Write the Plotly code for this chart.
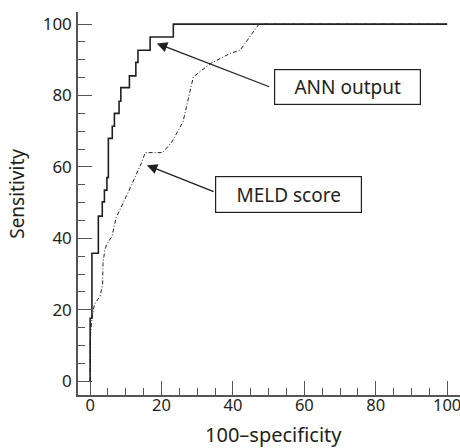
import plotly.graph_objects as go

# ANN output ROC (step curve vertices, 100-specificity vs sensitivity)
ann_x = [0, 0.5, 2.3, 3.4, 4.0, 4.7, 5.1, 6.2, 6.8, 8.1, 8.6, 11.0, 12.8, 13.4, 16.8, 23.3, 100]
ann_y = [0, 17.6, 35.8, 46.2, 50.2, 53.5, 57.0, 68.0, 71.4, 75.0, 78.4, 82.2, 85.5, 89.3, 92.7, 96.4, 100]

# MELD score ROC
meld_x = [0, 0, 0.5, 1.2, 2.8, 3.5, 3.6, 4.1, 4.7, 6.1, 7.3, 9.0, 10.7, 12.6, 14.5, 15.4, 20.3,
          22.9, 26.0, 28.9, 33.6, 39.2, 42.0, 47.3, 100]
meld_y = [0, 11.8, 17.5, 21.5, 23.8, 27.2, 33.0, 36.7, 38.4, 40.5, 45.8, 49.3, 53.0, 57.2, 61.4, 64.0, 64.0,
          67.0, 72.6, 85.2, 88.9, 91.8, 92.7, 100, 100]

x_ticks = [0, 20, 40, 60, 80, 100]
y_ticks = [0, 20, 40, 60, 80, 100]

ink = "#231f20"
font_family = "Noto Sans"

fig = go.Figure()
fig.add_trace(go.Scatter(x=meld_x, y=meld_y, mode="lines",
                         line=dict(color=ink, width=1, dash="4px,2px,1px,2px"),
                         showlegend=False, hoverinfo="skip"))
fig.add_trace(go.Scatter(x=ann_x, y=ann_y, mode="lines", line_shape="vh",
                         line=dict(color=ink, width=1.6),
                         showlegend=False, hoverinfo="skip"))

axis_common = dict(
    showgrid=False, zeroline=False, showline=True, linecolor="#555", linewidth=1.5,
    ticks="inside", ticklen=14, tickwidth=1.3, tickcolor="#555", automargin=False,
    ticklabeloverflow="allow",
    minor=dict(ticks="inside", ticklen=7, tickwidth=1.1, tickcolor="#555", dtick=5),
)

fig.update_xaxes(range=[-3.4, 103.6], tickvals=x_ticks, ticklabelstandoff=-6,
                 tickfont=dict(family=font_family, size=16.5, color=ink), **axis_common)
fig.update_yaxes(range=[-3.9, 103.4], tickvals=y_ticks, ticklabelstandoff=1,
                 tickfont=dict(family=font_family, size=17, color=ink), **axis_common)

# Axis titles
fig.add_annotation(x=0.513, y=-0.103, xref="paper", yref="paper", xanchor="center", yanchor="middle",
                   text="100–specificity", showarrow=False,
                   font=dict(family=font_family, size=20, color=ink))
fig.add_annotation(x=-0.16, y=0.525, xref="paper", yref="paper", xanchor="center", yanchor="middle",
                   text="Sensitivity", textangle=-90, showarrow=False,
                   font=dict(family=font_family, size=19, color=ink))

# Arrows
fig.add_annotation(x=18.7, y=94.6, ax=50.6, ay=82.3, axref="x", ayref="y", xref="x", yref="y",
                   text="", showarrow=True, arrowhead=2, arrowsize=1.6, arrowwidth=1.3, arrowcolor=ink)
fig.add_annotation(x=15.9, y=60.5, ax=35.0, ay=52.9, axref="x", ayref="y", xref="x", yref="y",
                   text="", showarrow=True, arrowhead=2, arrowsize=1.6, arrowwidth=1.3, arrowcolor=ink)

# Label boxes
fig.add_annotation(x=72.2, y=82.5, xref="x", yref="y", text="ANN output", showarrow=False,
                   font=dict(family=font_family, size=19, color=ink),
                   bordercolor=ink, borderwidth=1.2, borderpad=0, width=145, height=34, bgcolor="white")
fig.add_annotation(x=55.5, y=52.4, xref="x", yref="y", text="MELD score", showarrow=False,
                   font=dict(family=font_family, size=19, color=ink),
                   bordercolor=ink, borderwidth=1.2, borderpad=0, width=145, height=35, bgcolor="white")

fig.update_layout(width=460, height=448, margin=dict(l=78, r=0, t=12, b=53),
                  plot_bgcolor="white", paper_bgcolor="white")

fig.write_html("out.html", config={"displayModeBar": False},
               post_script="document.body.style.margin='0';")
